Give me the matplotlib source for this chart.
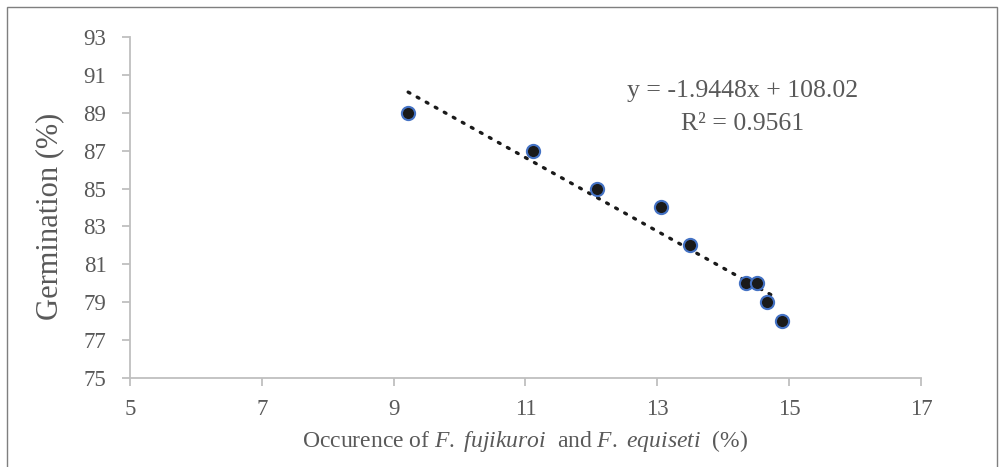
import numpy as np
import matplotlib.pyplot as plt
from matplotlib.patches import Rectangle

# occurrence (%) vs germination (%)
occurrence = [9.22, 11.11, 12.08, 13.05, 13.50, 14.34, 14.51, 14.67, 14.89]
germination = [89, 87, 85, 84, 82, 80, 80, 79, 78]
x_ticks = [5, 7, 9, 11, 13, 15, 17]
y_ticks = [75, 77, 79, 81, 83, 85, 87, 89, 91, 93]
eq_text = 'y = -1.9448x + 108.02\nR\u00b2 = 0.9561'

plt.rcParams['font.family'] = ['Liberation Serif', 'DejaVu Serif']
plt.rcParams['mathtext.fontset'] = 'custom'
plt.rcParams['mathtext.rm'] = 'Liberation Serif'
plt.rcParams['mathtext.it'] = 'Liberation Serif:italic'

grey_txt = '#595959'
grey_ax = '#BFBFBF'

fig = plt.figure(figsize=(10.03, 4.67), dpi=100)
ax = fig.add_axes([0.1296, 0.1906, 0.7886, 0.7302])

# outer frame like the Excel chart area
fig.patches.append(Rectangle((7 / 1003, -0.05), 990 / 1003, 1 - 7 / 467 + 0.05,
                             transform=fig.transFigure, fill=False,
                             edgecolor='#7f7f7f', linewidth=1.0))

# trend line
k, b = np.polyfit(occurrence, germination, 1)
tx = np.array([min(occurrence), max(occurrence) - 0.08])
ax.plot(tx, k * tx + b, color='#1a1a1a', linewidth=2.4,
        linestyle=(0, (0.6, 2.5)), dash_capstyle='round', zorder=2)

ax.plot(occurrence, germination, 'o', markersize=9.5, markerfacecolor='#1a1a1a',
        markeredgecolor='#4472C4', markeredgewidth=1.5, zorder=3)

ax.set_xlim(5, 17)
ax.set_ylim(75, 93)
ax.set_xticks(x_ticks)
ax.set_yticks(y_ticks)

for s in ['top', 'right']:
    ax.spines[s].set_visible(False)
for s in ['left', 'bottom']:
    ax.spines[s].set_color(grey_ax)
    ax.spines[s].set_linewidth(1.3)

ax.tick_params(axis='both', colors=grey_ax, labelcolor=grey_txt,
               labelsize=16.5, length=6, width=1.3, direction='out')
ax.tick_params(axis='x', pad=9)
ax.tick_params(axis='y', pad=11)

ax.set_ylabel('Germination (%)', fontsize=22, color=grey_txt)
ax.yaxis.set_label_coords(-0.083, 0.475)
ax.set_xlabel(r'Occurence of $\mathit{F.\ fujikuroi}$  and$\mathit{\ F.\ equiseti}$  (%)',
              fontsize=17, color=grey_txt, labelpad=6)

ax.text(14.3, 89.3, eq_text, ha='center', va='center', fontsize=18.5,
        color=grey_txt, linespacing=1.65)

fig.savefig('out.png', dpi=100)
